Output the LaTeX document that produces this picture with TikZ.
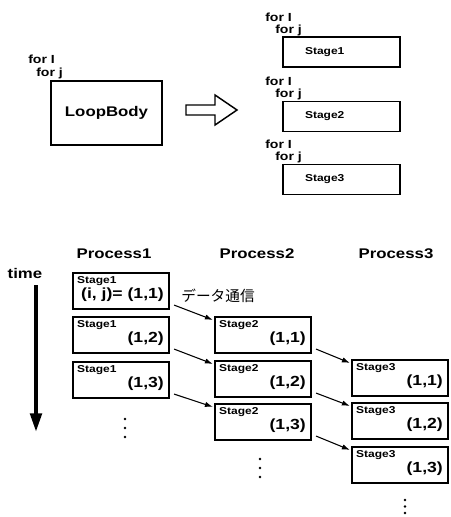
\documentclass[tikz,border=0pt]{standalone}
\usepackage{fontspec}
\setmainfont{Liberation Sans}
\newfontfamily\widesans[FakeStretch=1.2]{Liberation Sans}
\newfontfamily\jpfont{Noto Sans CJK JP}
\usetikzlibrary{positioning,arrows.meta}

\tikzset{
    heading/.style={inner sep=0pt, font=\widesans\bfseries\fontsize{10.5}{12}\selectfont},
    looptext/.style={inner sep=0pt, anchor=west, font=\widesans\bfseries\fontsize{8.8}{10}\selectfont},
    stagetag/.style={inner sep=0pt, font=\widesans\bfseries\fontsize{7.5}{9}\selectfont},
    idxtag/.style={inner sep=0pt, font=\widesans\bfseries\fontsize{11}{13}\selectfont},
    loopbox/.style={draw, line width=1.1pt, minimum width=83.25pt, minimum height=48pt,
        font=\widesans\bfseries\fontsize{10.5}{12}\selectfont},
    stagebox/.style={draw, line width=1.1pt, minimum width=87.75pt, minimum height=22.5pt,
        text width=54.75pt, inner xsep=16.5pt, align=left,
        font=\widesans\bfseries\fontsize{7.5}{9}\selectfont},
    procbox/.style={draw, line width=1.6pt, minimum width=72pt, minimum height=27pt},
    flow/.style={line width=0.8pt, -{Latex[length=6pt,width=4pt]}}
}

\begin{document}
\begin{tikzpicture}[x=0.75pt, y=-0.75pt]
    \useasboundingbox (0,0) rectangle (450,517);

    % Loop nest before splitting
    \node[loopbox] (body) at (106.5,113) {LoopBody};
    \node[looptext] (bodyi) at (28,59) {for I};
    \node[looptext] (bodyj) at (36,73) {for j};

    % Hollow block arrow
    \draw[line width=1.1pt] (186,105) -- (215,105) -- (215,95) -- (237,110)
        -- (215,125) -- (215,115) -- (186,115) -- cycle;

    % Split loops, one per stage
    \foreach \k/\y in {1/52, 2/116.5, 3/179.5} {
        \node[stagebox] (stage\k) at (341.5,\y) {Stage\k};
        \node[looptext] (fori\k) at (265,\y-35) {for I};
        \node[looptext] (forj\k) at (275,\y-22) {for j};
    }

    % Process headings and time axis
    \node[heading] (proc1) at (114,254) {Process1};
    \node[heading] (proc2) at (257,254) {Process2};
    \node[heading] (proc3) at (396,254) {Process3};
    \node[heading] (time) at (25,273) {time};
    \coordinate (tstart) at (36,285);
    \coordinate (tend) at (36,432);
    \draw[line width=3pt, -{Triangle[length=14pt,width=8.5pt]}] (tstart) -- (tend);

    % Pipelined stages
    \foreach \nm/\cx/\cy/\stg/\idx in {
        p1a/121/291/1/{(i, j)= (1,1)}, p1b/121/335/1/{(1,2)}, p1c/121/380/1/{(1,3)},
        p2a/263/335/2/{(1,1)}, p2b/263/379/2/{(1,2)}, p2c/263/422/2/{(1,3)},
        p3a/400/378/3/{(1,1)}, p3b/400/421/3/{(1,2)}, p3c/400/465/3/{(1,3)}} {
        \node[procbox] (\nm) at (\cx,\cy) {};
        \node[stagetag, anchor=north west] (\nm-s) at ([shift={(5,4)}]\nm.north west) {Stage\stg};
        \node[idxtag, anchor=east] (\nm-i) at ([shift={(-6,3.5)}]\nm.east) {\idx};
    }

    % Data transfer between processes
    \node[inner sep=0pt, font=\jpfont\fontsize{11}{13}\selectfont] (comm) at (218,296) {データ通信};
    \foreach \a/\b in {p1a/p2a, p1b/p2b, p1c/p2c, p2a/p3a, p2b/p3b, p2c/p3c}
        \draw[flow] ([shift={(4,-5)}]\a.south east) -- ([shift={(-1,4)}]\b.north west);

    % Continuation dots
    \foreach \cx/\cy/\dy in {125/419/9, 260/459/9, 405/500/6.5}
        \foreach \d in {0,1,2}
            \fill (\cx,\cy+\d*\dy) circle (1.4);
\end{tikzpicture}
\end{document}
